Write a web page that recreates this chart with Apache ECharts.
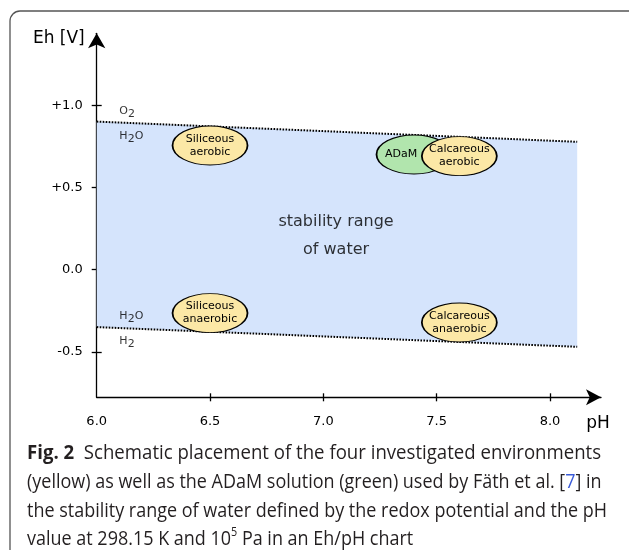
<!DOCTYPE html>
<html><head><meta charset="utf-8">
<script src="https://cdn.jsdelivr.net/npm/echarts@6/dist/echarts.min.js"></script>
<style>html,body{margin:0;padding:0;background:#fff}#c{width:629px;height:550px}</style>
</head><body><div id="c"></div>
<script>
// ---- data ----
const xTickValues = [6.5, 7.0, 7.5, 8.0];
const xLabelValues = [6.0, 6.5, 7.0, 7.5, 8.0];
const yTickValues = [-0.5, 0.0, 0.5, 1.0];
const bandPH = [6.0, 8.12];
const o2H2OLine = [0.90, 0.777];
const h2oH2Line = [-0.35, -0.47];
const envNames = ['Siliceous\naerobic', 'ADaM', 'Calcareous\naerobic', 'Siliceous\nanaerobic', 'Calcareous\nanaerobic'];
const envPH = [6.5, 7.4, 7.6, 6.5, 7.6];
const envEh = [0.755, 0.70, 0.69, -0.265, -0.322];
const envKind = ['yellow', 'green', 'yellow', 'yellow', 'yellow'];
const speciesNames = ['O2', 'H2O', 'H2O', 'H2'];
const speciesPH = [6.1, 6.1, 6.1, 6.1];
const speciesEh = [0.958, 0.806, -0.286, -0.441];
const bandText = 'stability range\nof water';
const bandTextPH = 7.056;
const bandTextEh = 0.205;
const captionLines = [
  '{b|Fig. 2}{n|  Schematic placement of the four investigated environments}',
  '{n|(yellow) as well as the ADaM solution (green) used by Fäth et al. [}{l|7}{n|] in}',
  '{n|the stability range of water defined by the redox potential and the pH}',
  '{n|value at 298.15 K and 10}{sup|5}{n| Pa in an Eh/pH chart}'
];

// ---- caption font fitting (condensed via horizontal scale) ----
const cv = document.createElement('canvas').getContext('2d');
function w(font, s) { cv.font = font; return cv.measureText(s).width; }
const probe = 'the stability range of water defined by the redox potential and the pH';
const capFamily = 'Open Sans';
const capSize = 19.5;
const capScale = 580 / w(capSize + 'px "' + capFamily + '"', probe);
const lineStretch = [1.035, 1.0, 1.0, 1.0];

const FF = 'DejaVu Sans';
function sub(s) { return s.replace(/([A-Za-z]+)|(\d)/g, (m, a, d) => a ? '{n|' + a + '}' : '{s|' + d + '}'); }

const chart = echarts.init(document.getElementById('c'), null, { renderer: 'canvas' });
const axisLineStyle = { color: '#000', width: 1.3 };
const option = {
  animation: false,
  backgroundColor: '#fff',
  grid: { left: 96.7, right: 28, top: 33.3, bottom: 152.7, containLabel: false },
  xAxis: [{
    type: 'value', min: 6.0, max: 8.225, position: 'bottom',
    name: 'pH', nameLocation: 'end', nameGap: -3,
    nameTextStyle: { fontFamily: FF, fontSize: 17, color: '#000', align: 'center', verticalAlign: 'top', padding: [18, 0, 0, 0] },
    axisLine: { show: true, onZero: false, symbol: ['none', 'arrow'], symbolSize: [12, 15], lineStyle: axisLineStyle },
    axisTick: { show: true, inside: false, length: 4, customValues: xTickValues, lineStyle: axisLineStyle },
    axisLabel: { show: true, customValues: xLabelValues, formatter: v => v.toFixed(1), fontFamily: FF, fontSize: 13, color: '#000', margin: 18 },
    splitLine: { show: false }
  }, {
    type: 'value', min: 6.0, max: 8.225, position: 'bottom',
    axisLine: { show: false, onZero: false },
    axisTick: { show: true, inside: true, length: 4, customValues: xTickValues, lineStyle: axisLineStyle },
    axisLabel: { show: false },
    splitLine: { show: false }
  }],
  yAxis: [{
    type: 'value', min: -0.777, max: 1.437, position: 'left',
    name: 'Eh [V]', nameLocation: 'end', nameGap: -5,
    nameTextStyle: { fontFamily: FF, fontSize: 17, color: '#000', align: 'right', verticalAlign: 'middle', padding: [0, 12, 0, 0] },
    axisLine: { show: true, onZero: false, symbol: ['none', 'arrow'], symbolSize: [13, 15], lineStyle: axisLineStyle },
    axisTick: { show: true, inside: false, length: 5, customValues: yTickValues, lineStyle: axisLineStyle },
    axisLabel: { show: true, customValues: yTickValues, formatter: v => (v > 0 ? '+' : '') + v.toFixed(1), fontFamily: FF, fontSize: 13, color: '#000', margin: 14 },
    splitLine: { show: false }
  }, {
    type: 'value', min: -0.777, max: 1.437, position: 'left',
    axisLine: { show: false, onZero: false },
    axisTick: { show: true, inside: true, length: 5, customValues: yTickValues, lineStyle: axisLineStyle },
    axisLabel: { show: false },
    splitLine: { show: false }
  }],
  series: [
    {
      type: 'custom', silent: true, z: 1, data: [[bandPH[0], h2oH2Line[0]]],
      renderItem: function (params, api) {
        const pts = [];
        for (let i = 0; i < bandPH.length; i++) pts.push(api.coord([bandPH[i], o2H2OLine[i]]));
        for (let i = bandPH.length - 1; i >= 0; i--) pts.push(api.coord([bandPH[i], h2oH2Line[i]]));
        return { type: 'polygon', shape: { points: pts }, style: { fill: '#d5e4fc' } };
      }
    },
    {
      type: 'line', silent: true, z: 2, symbol: 'none',
      data: bandPH.map((x, i) => [x, o2H2OLine[i]]),
      lineStyle: { color: '#000', width: 2, type: [1.6, 1.4] }
    },
    {
      type: 'line', silent: true, z: 2, symbol: 'none',
      data: bandPH.map((x, i) => [x, h2oH2Line[i]]),
      lineStyle: { color: '#000', width: 2, type: [1.6, 1.4] }
    },
    {
      type: 'scatter', silent: true, z: 3,
      symbol: 'path://M0,50A50,50,0,1,1,100,50A50,50,0,1,1,0,50Z',
      symbolSize: [75, 39],
      data: envPH.map((x, i) => ({
        name: envNames[i], value: [x, envEh[i]],
        itemStyle: { color: envKind[i] === 'green' ? '#b1e5ad' : '#fce8a6', borderColor: '#000', borderWidth: 1.3, opacity: 1 },
        label: envKind[i] === 'green' ? { offset: [-13, 0] } : {}
      })),
      label: { show: true, position: 'inside', formatter: p => p.name, fontFamily: FF, fontSize: 11, lineHeight: 13, color: '#000' }
    },
    {
      type: 'scatter', silent: true, z: 3, symbolSize: 0,
      data: speciesPH.map((x, i) => ({ name: speciesNames[i], value: [x, speciesEh[i]] })),
      label: {
        show: true, position: 'inside', align: 'left', verticalAlign: 'middle',
        formatter: p => sub(p.name),
        rich: {
          n: { fontFamily: FF, fontSize: 11, color: '#000', lineHeight: 12, verticalAlign: 'top' },
          s: { fontFamily: FF, fontSize: 11, color: '#000', lineHeight: 12, verticalAlign: 'top', padding: [3, 0, 0, 0] }
        }
      }
    },
    {
      type: 'scatter', silent: true, z: 3, symbolSize: 0,
      data: [{ name: bandText, value: [bandTextPH, bandTextEh] }],
      label: { show: true, position: 'inside', formatter: p => p.name, fontFamily: FF, fontSize: 16, lineHeight: 28, color: '#000' }
    }
  ],
  graphic: [
    { type: 'rect', silent: true, z: 100, shape: { x: 10, y: 11, width: 800, height: 800, r: 10 }, style: { fill: 'none', stroke: '#555', lineWidth: 1.3 } }
  ].concat(captionLines.map((t, i) => {
    const base = { fontFamily: capFamily, fontSize: capSize, lineHeight: capSize * 1.2, fill: '#231f20', color: '#231f20', verticalAlign: 'bottom' };
    return {
      type: 'text', silent: true, z: 100, x: 27, y: 452 + i * 28.7, scaleX: capScale * lineStretch[i], scaleY: 1,
      style: {
        text: t, fontFamily: capFamily, fontSize: capSize, fill: '#231f20',
        textAlign: 'left', textVerticalAlign: 'middle', verticalAlign: 'middle',
        rich: {
          n: base,
          b: Object.assign({}, base, { fontWeight: 'bold' }),
          l: Object.assign({}, base, { fill: '#3a5bd9', color: '#3a5bd9' }),
          sup: { fontFamily: capFamily, fontSize: capSize * 0.6, lineHeight: capSize * 1.2, fill: '#231f20', color: '#231f20', verticalAlign: 'top' }
        }
      }
    };
  }))
};
chart.setOption(option);
</script></body></html>
